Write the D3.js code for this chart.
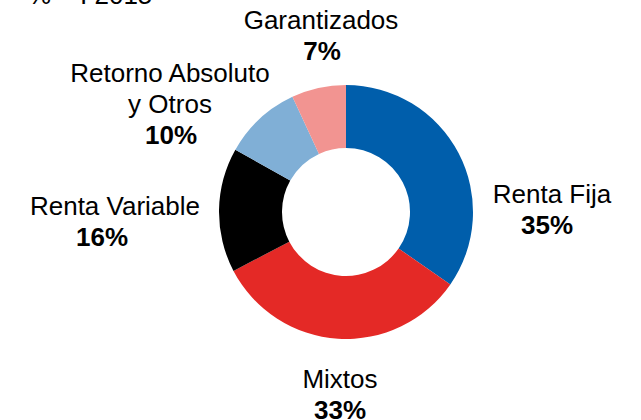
<!DOCTYPE html>
<style>
    body { margin: 0; background: #fff; }
    text { font-family: "Liberation Sans", Arial, sans-serif; fill: #000; }
</style>
<body>

<script src="https://d3js.org/d3.v7.min.js"></script>
<script>
    var categories = ["Renta Fija", "Mixtos", "Renta Variable", "Retorno Absoluto y Otros", "Garantizados"];
    var values = [35, 33, 16, 10, 7];
    var labelLines = [["Renta Fija"], ["Mixtos"], ["Renta Variable"], ["Retorno Absoluto", "y Otros"], ["Garantizados"]];
    var colors = ["#005EAB", "#E42926", "#000000", "#80AFD6", "#F29491"];
    var title = "% – I 2015";

    var width = 641,
        height = 420;

    var cx = 346, cy = 212,
        outerR = 127, innerR = 64;

    var fontSize = 26,
        lineH = 31;

    // label anchors: center x of name lines, center x of value, baseline of first line
    var labelPos = [
        {x: 552, vx: 547, y: 203},
        {x: 340, vx: 340, y: 388},
        {x: 115, vx: 102, y: 215},
        {x: 170, vx: 171, y: 82},
        {x: 321, vx: 322, y: 29}
    ];

    var svg = d3.select("body").append("svg")
        .attr("width", width)
        .attr("height", height);

    svg.append("text")
        .attr("x", 28)
        .attr("y", 4)
        .attr("font-size", fontSize)
        .text(title);

    var data = categories.map(function(c, i) {
        return {name: c, value: values[i], lines: labelLines[i], color: colors[i], pos: labelPos[i]};
    });

    var pie = d3.pie()
        .sort(null)
        .value(function(d) { return d.value; });

    var arc = d3.arc()
        .innerRadius(innerR)
        .outerRadius(outerR);

    var g = svg.append("g").attr("transform", "translate(" + cx + "," + cy + ")");

    g.selectAll("path")
        .data(pie(data))
        .enter().append("path")
        .attr("d", arc)
        .attr("fill", function(d) { return d.data.color; });

    var labels = svg.append("g")
        .selectAll("text")
        .data(data)
        .enter().append("text")
        .attr("text-anchor", "middle")
        .attr("font-size", fontSize);

    labels.each(function(d) {
        var t = d3.select(this);
        d.lines.forEach(function(l, i) {
            t.append("tspan")
                .attr("x", d.pos.x)
                .attr("y", d.pos.y + i * lineH)
                .text(l);
        });
        t.append("tspan")
            .attr("x", d.pos.vx)
            .attr("y", d.pos.y + d.lines.length * lineH)
            .attr("font-weight", "bold")
            .text(d.value + "%");
    });
</script>
</body>
